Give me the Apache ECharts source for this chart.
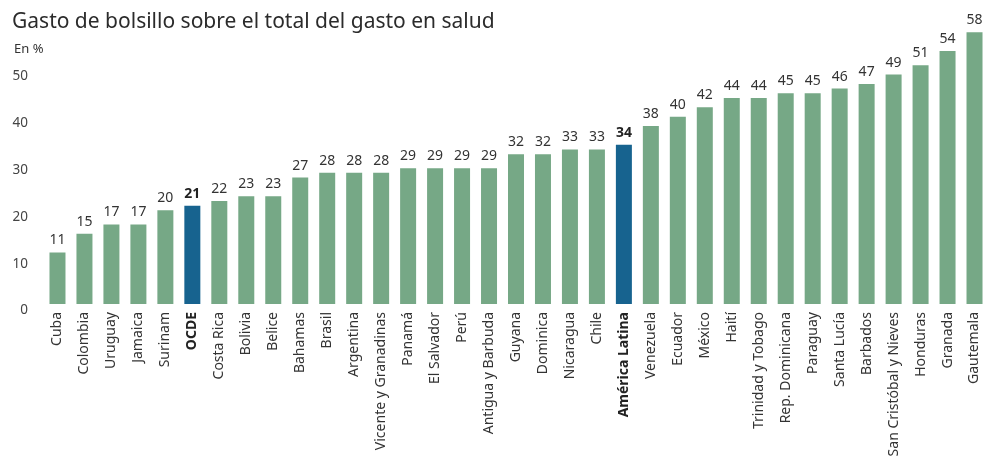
<!DOCTYPE html>
<html>
<head>
<meta charset="utf-8">
<script src="https://cdn.jsdelivr.net/npm/echarts@6/dist/echarts.min.js"></script>
<style>
  html, body { margin: 0; padding: 0; background: #fff; }
  #chart { width: 988px; height: 461px; }
</style>
</head>
<body>
<div id="chart"></div>
<script>
// Out-of-pocket spending as a share of total health spending (%)
const countries = [
  'Cuba', 'Colombia', 'Uruguay', 'Jamaica', 'Surinam', 'OCDE', 'Costa Rica',
  'Bolivia', 'Belice', 'Bahamas', 'Brasil', 'Argentina', 'Vicente y Granadinas',
  'Panamá', 'El Salvador', 'Perú', 'Antigua y Barbuda', 'Guyana', 'Dominica',
  'Nicaragua', 'Chile', 'América Latina', 'Venezuela', 'Ecuador', 'México',
  'Haití', 'Trinidad y Tobago', 'Rep. Dominicana', 'Paraguay', 'Santa Lucía',
  'Barbados', 'San Cristóbal y Nieves', 'Honduras', 'Granada', 'Gautemala'
];
const shares = [
  11, 15, 17, 17, 20, 21, 22, 23, 23, 27, 28, 28, 28, 29, 29, 29, 29, 32, 32,
  33, 33, 34, 38, 40, 42, 44, 44, 45, 45, 46, 47, 49, 51, 54, 58
];
// Aggregates drawn in blue with bold labels
const aggregates = ['OCDE', 'América Latina'];
const yTicks = [0, 10, 20, 30, 40, 50];

const GREEN = '#76a886';
const BLUE = '#17638f';
const FONT = 'Noto Sans';

const chart = echarts.init(document.getElementById('chart'));
chart.setOption({
  animation: false,
  backgroundColor: '#ffffff',
  textStyle: { fontFamily: FONT },
  title: [
    {
      text: 'Gasto de bolsillo sobre el total del gasto en salud',
      left: 7, top: 7,
      textStyle: { fontFamily: FONT, fontSize: 21, fontWeight: 'normal', color: '#2b2b2b' }
    },
    {
      text: 'En %',
      left: 9, top: 38,
      textStyle: { fontFamily: FONT, fontSize: 13, fontWeight: 'normal', color: '#333' }
    }
  ],
  grid: { left: 44, right: -4, top: 23, bottom: 157, containLabel: false },
  xAxis: {
    type: 'category',
    data: countries,
    axisLine: { show: false },
    axisTick: { show: false },
    axisLabel: {
      interval: 0,
      rotate: 90,
      margin: 8,
      fontFamily: FONT,
      fontSize: 14,
      color: '#333',
      formatter: v => aggregates.includes(v) ? '{b|' + v + '}' : v,
      rich: { b: { fontFamily: FONT, fontSize: 14, fontWeight: 'bold', color: '#222' } }
    }
  },
  yAxis: {
    type: 'value',
    min: 0, max: 60, interval: 10,
    splitLine: { show: false },
    axisLine: { show: false },
    axisTick: { show: false },
    axisLabel: {
      margin: 16,
      fontFamily: FONT,
      fontSize: 13.5,
      color: '#444',
      verticalAlign: 'top',
      lineHeight: 13,
      formatter: v => yTicks.includes(v) ? String(v) : ''
    }
  },
  series: [{
    type: 'bar',
    barWidth: 16,
    data: countries.map((c, i) => ({
      value: shares[i],
      itemStyle: { color: aggregates.includes(c) ? BLUE : GREEN },
      label: aggregates.includes(c) ? { fontWeight: 'bold', color: '#222' } : undefined
    })),
    label: {
      show: true,
      position: 'top',
      distance: 5,
      fontFamily: FONT,
      fontSize: 14,
      color: '#333'
    }
  }]
});
</script>
</body>
</html>
